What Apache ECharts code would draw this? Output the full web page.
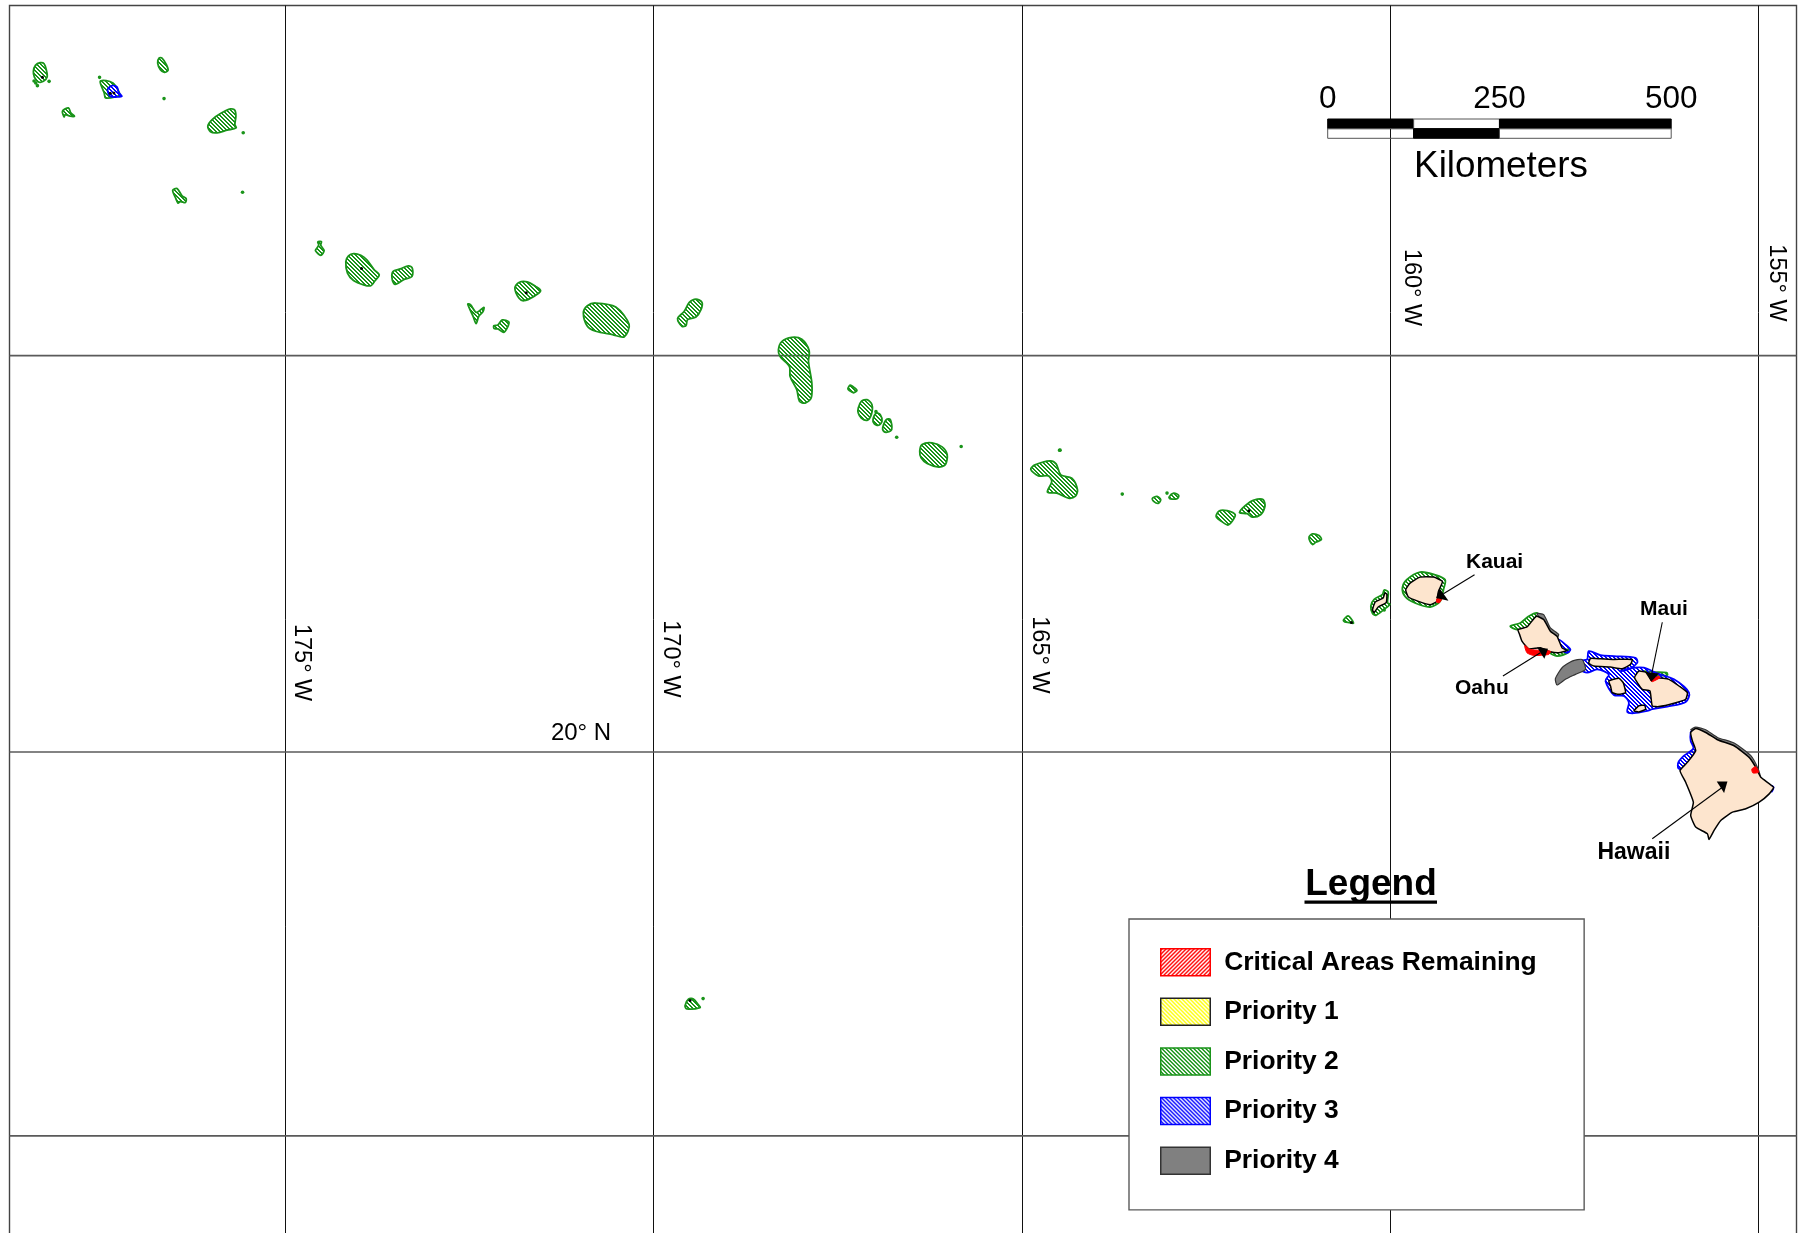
<!DOCTYPE html>
<html>
<head>
<meta charset="utf-8">
<style>html,body{margin:0;padding:0;background:#fff}#chart{width:1805px;height:1233px}</style>
<script src="https://cdn.jsdelivr.net/npm/echarts@6/dist/echarts.min.js"></script>
</head>
<body>
<div id="chart"></div>
<script>
// ---------- graticule (degrees) ----------
const meridians = [-175, -170, -165, -160, -155];
const parallels = [25, 20, 15];
const mapWest = -178.744, mapEast = -154.487;
const northingTop = 30.617, northingBottom = 13.827;   // Mercator northing, in degrees
const graticuleLabels = [
  ['175° W', -174.777, 21.640, true],
  ['170° W', -169.771, 21.690, true],
  ['165° W', -164.762, 21.745, true],
  ['160° W', -159.720, 26.764, true],
  ['155° W', -154.752, 26.826, true],
  ['20° N', -170.986, 20.676, false]
];

// ---------- outline sheets: origin [lon, northing]; outlines are offsets from it ----------
const OUTLINE_UNIT = 1 / 220.5;  // degrees per outline unit
const sheetNorthwest = [-178.873, 30.692];
const sheetLaysan = [-174.800, 27.686];
const sheetGardner = [-168.556, 26.320];
const sheetNihoa = [-165.027, 24.681];
const sheetMain = [-160.141, 23.588];
const sheetJohnston = [-169.778, 17.236];

const priority2Northwest = [
  [[120,189],[132,192],[139,212],[141,232],[130,245],[115,247],[103,232],[100,215],[106,197]],
  [[300,245],[318,243],[338,250],[350,265],[358,285],[345,292],[316,295],[312,280]],
  [[187,335],[205,325],[212,340],[223,350],[210,350],[195,345],[192,352]],
  [[476,175],[485,175],[498,195],[503,212],[492,218],[480,210],[472,190]],
  [[622,380],[635,360],[660,342],[690,328],[703,332],[706,350],[703,375],[707,385],[680,392],[650,400],[630,397]],
  [[517,573],[530,568],[545,590],[557,598],[555,610],[540,607],[533,612],[525,595]]
];
const priority2Laysan = [
  [[50,85],[56,75],[53,66],[64,65],[62,76],[72,92],[62,106],[46,92]],
  [[137,125],[145,108],[160,101],[182,106],[200,120],[222,150],[237,165],[225,182],[212,198],[190,195],[160,182],[142,160]],
  [[278,155],[300,147],[325,138],[336,145],[335,170],[310,180],[285,194],[276,180]],
  [[643,205],[655,188],[680,186],[705,200],[720,213],[700,230],[670,243],[655,235]],
  [[502,253],[510,255],[528,278],[550,263],[548,275],[535,290],[527,312],[518,290]],
  [[580,318],[592,316],[605,301],[625,307],[620,325],[610,338],[592,328],[581,327]],
  [[848,280],[860,258],[885,250],[945,262],[985,315],[970,352],[935,345],[885,335],[860,320]],
  [[1130,297],[1150,275],[1165,248],[1185,238],[1203,248],[1200,270],[1185,292],[1160,300],[1155,318],[1143,320]]
];
const priority2Gardner = [
  [[55,90],[65,65],[95,52],[125,58],[147,92],[145,125],[155,190],[153,235],[135,250],[118,245],[110,210],[90,170],[88,140],[60,110]],
  [[263,207],[270,196],[280,202],[290,212],[280,219],[268,213]],
  [[294,265],[303,245],[320,240],[335,255],[333,285],[320,302],[303,295],[294,280]],
  [[338,300],[348,280],[360,285],[365,305],[355,317],[342,313]],
  [[367,325],[378,300],[390,300],[394,330],[380,338],[370,335]],
  [[478,395],[485,375],[515,370],[545,382],[560,405],[555,435],[535,443],[500,432],[482,415]]
];
const priority2Nihoa = [
  [[32,88],[45,75],[90,63],[108,72],[122,105],[155,115],[172,150],[165,170],[145,175],[110,160],[82,157],[95,125],[85,108],[55,108]],
  [[396,176],[410,170],[421,180],[414,191],[400,185]],
  [[446,172],[460,160],[475,167],[470,177],[450,177]],
  [[587,230],[597,213],[620,213],[644,225],[635,245],[622,256],[600,243]],
  [[657,218],[688,187],[710,178],[728,180],[733,200],[720,225],[695,232],[680,222]],
  [[865,292],[875,283],[895,288],[902,300],[885,308],[876,315],[868,305]],
  [[968,543],[982,530],[992,540],[998,552],[985,550],[972,548]],
  [[1050,500],[1060,480],[1085,465],[1090,452],[1102,458],[1100,490],[1107,495],[1090,510],[1065,528],[1055,522]]
];
const priority2Main = [
  [[67,205],[80,180],[120,157],[165,165],[195,180],[190,210],[180,245],[150,262],[105,250],[75,230]],
  [[390,320],[420,310],[445,290],[470,280],[480,300],[440,325],[410,330]],
  [[510,400],[535,395],[562,390],[565,398],[530,410]],
  [[790,455],[820,458],[858,460],[860,467],[825,468],[800,462]]
];
const priority2Johnston = [
  [[45,62],[55,43],[70,42],[85,60],[90,68],[50,72]]
];
const priority3Northwest = [
  [[322,270],[335,258],[350,262],[355,278],[365,290],[350,292],[330,290]]
];
const priority3Main = [
  [[535,360],[555,375],[570,390],[560,400],[540,385]],
  [[625,395],[660,407],[700,410],[765,415],[770,430],[740,452],[720,455],[760,445],[790,445],[830,462],[880,480],[925,520],[915,548],[860,562],[815,570],[800,575],[760,582],[740,578],[745,550],[730,530],[700,527],[675,485],[685,465],[650,450],[620,460],[600,450],[600,425],[620,420]],
  [[930,640],[935,635],[945,680],[948,690],[925,730],[905,750],[893,748],[893,730],[910,710],[938,688],[930,665]],
  [[1168,800],[1178,805],[1172,818]]
];
const priority4Main = [
  [[470,282],[490,285],[510,325],[535,345],[520,365],[505,345],[490,310]],
  [[525,478],[545,445],[575,425],[605,420],[615,450],[585,465],[555,480],[530,497]],
  [[930,632],[945,624],[975,632],[1010,655],[1060,672],[1110,710],[1132,750],[1140,780],[1130,775],[1120,745],[1100,718],[1060,685],[1010,668],[975,645],[945,635]]
];
const landNihoa = [
  [[1055,512],[1063,488],[1087,476],[1092,461],[1098,464],[1096,490],[1072,503],[1060,520]]
];
const landMain = [
  [[77,210],[90,190],[120,172],[160,172],[187,185],[175,215],[170,245],[150,255],[115,245],[85,232]],
  [[413,330],[440,322],[468,290],[490,300],[510,335],[530,350],[545,385],[560,393],[535,400],[510,397],[480,385],[445,388],[425,365],[418,345]],
  [[630,417],[660,418],[700,420],[755,420],[750,435],[725,448],[690,443],[640,440],[625,432]],
  [[685,485],[715,477],[728,490],[735,520],[715,525],[695,520],[690,500]],
  [[762,475],[775,455],[800,460],[812,482],[830,475],[865,480],[895,500],[920,520],[915,540],[880,552],[835,562],[815,560],[808,515],[785,510]],
  [[760,575],[775,560],[792,558],[795,570],[775,578]],
  [[930,640],[945,628],[975,640],[1010,662],[1060,680],[1105,715],[1125,745],[1140,775],[1178,805],[1165,825],[1135,850],[1095,870],[1055,880],[1020,905],[1000,935],[985,962],[980,945],[945,925],[930,890],[938,850],[915,790],[898,755],[920,730],[945,695],[935,665]]
];
const criticalMain = [
  [[170,238],[185,237],[178,249],[170,248]],
  [[433,378],[450,390],[510,395],[505,405],[460,408],[440,400]],
  [[810,483],[835,470],[838,475],[815,487]],
  [[1113,750],[1125,743],[1133,760],[1116,762]]
];
const dotsPriority2Northwest = [[102,244],[107,250],[112,258],[147,245],[298,233],[728,400],[726,579],[491,297]];
const dotsPriority2Gardner = [[347,276],[409,353],[602,381],[898,392]];
const dotsPriority2Nihoa = [[118,31],[306,163],[440,160],[1090,512]];
const dotsPriority2Johnston = [[99,41]];
const dotsBlackNorthwest = [[127,233],[330,281],[341,280]];
const dotsBlackLaysan = [[184,146],[677,219]];
const dotsBlackNihoa = [[685,213],[992,550]];
const dotsBlackJohnston = [[60,47]];
const pointerLines = [
  [[283,165],[190,222]],
  [[368,470],[480,400]],
  [[845,308],[813,465]],
  [[815,960],[1025,805]]
];
const pointerHeads = [
  [[178,205],[205,243],[168,235]],
  [[470,383],[503,388],[492,418]],
  [[793,458],[835,462],[812,487]],
  [[1040,788],[1008,788],[1030,822]]
];
const islandNames = [
  ['Kauai', 343, 128],
  ['Maui', 850, 270],
  ['Oahu', 305, 506],
  ['Hawaii', 760, 1003]
];

// ---------- scale bar (kilometres) ----------
const scaleStart = [0, 125, 250];
const scaleEnd = [125, 250, 500];
const scaleUpperBlack = [1, 0, 1];

// ---------- legend ----------
const legendNames = ['Critical Areas Remaining', 'Priority 1', 'Priority 2', 'Priority 3', 'Priority 4'];

// ---------- helpers ----------
const northing = lat => (Math.log(Math.tan(Math.PI / 4 + lat * Math.PI / 360)) * 180) / Math.PI;
const place = (sheet, rings) => rings.map(r => r.map(p => [sheet[0] + p[0] * OUTLINE_UNIT, sheet[1] - p[1] * OUTLINE_UNIT]));
const placeDots = (sheet, pts) => pts.map(p => [sheet[0] + p[0] * OUTLINE_UNIT, sheet[1] - p[1] * OUTLINE_UNIT]);

function hatch(color, rising) {
  const c = document.createElement('canvas');
  c.width = c.height = 4;
  const g = c.getContext('2d');
  g.fillStyle = color;
  for (let i = 0; i < 4; i++) for (let j = 0; j < 4; j++) {
    const k = rising ? (i + j) % 4 : (i - j + 4) % 4;
    if (k < 2) g.fillRect(i, j, 1, 1);
  }
  return { image: c, repeat: 'repeat' };
}
const GREEN = '#1a941a', BLUE = '#0000ff', RED = '#ff0000', YELLOW = '#ffff00', GRAY = '#808080', LAND = '#fde5ce';
const fillCritical = hatch(RED, true), fillP1 = hatch(YELLOW, false), fillP2 = hatch(GREEN, false), fillP3 = hatch(BLUE, false);

function polygonSeries(name, rings, style, legendStyle) {
  return {
    type: 'custom', name, coordinateSystem: 'cartesian2d', xAxisIndex: 0, yAxisIndex: 0,
    silent: true, clip: true,
    itemStyle: legendStyle || { color: style.fill, borderColor: style.stroke, borderWidth: 1.5 },
    data: rings.map(r => r[0]),
    renderItem: (params, api) => ({
      type: 'polygon',
      shape: { points: rings[params.dataIndex].map(p => api.coord(p)), smooth: style.smooth === undefined ? 0.3 : style.smooth },
      style: { fill: style.fill, stroke: style.stroke, lineWidth: style.lineWidth }
    })
  };
}
function dotSeries(points, color, r) {
  return {
    type: 'custom', name: 'point features', coordinateSystem: 'cartesian2d', xAxisIndex: 0, yAxisIndex: 0, silent: true,
    data: points,
    renderItem: (params, api) => {
      const c = api.coord(points[params.dataIndex]);
      return { type: 'circle', shape: { cx: c[0], cy: c[1], r }, style: { fill: color } };
    }
  };
}

const graticuleSegments = meridians.map(m => ({ a: [m, northingBottom], b: [m, northingTop], c: '#111', w: 1, crisp: true }))
  .concat(parallels.map(p => ({ a: [mapWest, northing(p)], b: [mapEast, northing(p)], c: '#5a5a5a', w: 1.6 })));

const p2Rings = [].concat(place(sheetNorthwest, priority2Northwest), place(sheetLaysan, priority2Laysan),
  place(sheetGardner, priority2Gardner), place(sheetNihoa, priority2Nihoa), place(sheetMain, priority2Main),
  place(sheetJohnston, priority2Johnston));
const p3Rings = [].concat(place(sheetNorthwest, priority3Northwest), place(sheetMain, priority3Main));
const p4Rings = place(sheetMain, priority4Main);
const landRings = [].concat(place(sheetNihoa, landNihoa), place(sheetMain, landMain));
const critRings = place(sheetMain, criticalMain);
const headRings = place(sheetMain, pointerHeads);
const leaderLines = place(sheetMain, pointerLines);
const greenDots = [].concat(placeDots(sheetNorthwest, dotsPriority2Northwest), placeDots(sheetGardner, dotsPriority2Gardner),
  placeDots(sheetNihoa, dotsPriority2Nihoa), placeDots(sheetJohnston, dotsPriority2Johnston));
const blackDots = [].concat(placeDots(sheetNorthwest, dotsBlackNorthwest), placeDots(sheetLaysan, dotsBlackLaysan),
  placeDots(sheetNihoa, dotsBlackNihoa), placeDots(sheetJohnston, dotsBlackJohnston));

const FONT = '"Liberation Sans", Arial, sans-serif';

const series = [
  {
    type: 'custom', name: 'graticule', coordinateSystem: 'cartesian2d', xAxisIndex: 0, yAxisIndex: 0, silent: true,
    data: graticuleSegments.map(s => s.a),
    renderItem: (params, api) => {
      const s = graticuleSegments[params.dataIndex], a = api.coord(s.a), b = api.coord(s.b);
      const x1 = s.crisp ? Math.floor(a[0]) + 0.5 : a[0], x2 = s.crisp ? Math.floor(b[0]) + 0.5 : b[0];
      return { type: 'line', shape: { x1, y1: a[1], x2, y2: b[1] }, style: { stroke: s.c, lineWidth: s.w } };
    }
  },
  {
    type: 'custom', name: 'graticule labels', coordinateSystem: 'cartesian2d', xAxisIndex: 0, yAxisIndex: 0, silent: true,
    data: graticuleLabels.map(l => [l[1], l[2]]),
    renderItem: (params, api) => {
      const l = graticuleLabels[params.dataIndex], c = api.coord([l[1], l[2]]);
      return {
        type: 'text', x: c[0], y: c[1], rotation: l[3] ? -Math.PI / 2 : 0,
        style: { text: l[0], fill: '#000', font: (l[3] ? '23.5px ' : '24px ') + FONT, textAlign: 'center', textVerticalAlign: 'middle' }
      };
    }
  },
  polygonSeries('Priority 2', p2Rings, { fill: fillP2, stroke: GREEN, lineWidth: 1.8 }),
  polygonSeries('Priority 3', p3Rings, { fill: fillP3, stroke: BLUE, lineWidth: 1.8 }),
  polygonSeries('Priority 4', p4Rings, { fill: GRAY, stroke: '#333', lineWidth: 1.2, smooth: 0.2 }),
  polygonSeries('land', landRings, { fill: LAND, stroke: '#000', lineWidth: 1.5, smooth: 0.15 }),
  polygonSeries('Critical Areas Remaining', critRings, { fill: RED, stroke: RED, lineWidth: 1, smooth: 0.2 },
    { color: fillCritical, borderColor: RED, borderWidth: 1.5 }),
  polygonSeries('Priority 1', [], { fill: fillP1, stroke: '#222', lineWidth: 1.5 }),
  dotSeries(greenDots, GREEN, 1.8),
  dotSeries(blackDots, '#000', 1.5),
  {
    type: 'custom', name: 'pointers', coordinateSystem: 'cartesian2d', xAxisIndex: 0, yAxisIndex: 0, silent: true,
    data: leaderLines.map(l => l[0]),
    renderItem: (params, api) => {
      const l = leaderLines[params.dataIndex], h = headRings[params.dataIndex];
      const a = api.coord(l[0]), b = api.coord(l[1]);
      return {
        type: 'group',
        children: [
          { type: 'line', shape: { x1: a[0], y1: a[1], x2: b[0], y2: b[1] }, style: { stroke: '#000', lineWidth: 1.1 } },
          { type: 'polygon', shape: { points: h.map(p => api.coord(p)) }, style: { fill: '#000' } }
        ]
      };
    }
  },
  {
    type: 'custom', name: 'island names', coordinateSystem: 'cartesian2d', xAxisIndex: 0, yAxisIndex: 0, silent: true,
    data: islandNames.map(n => placeDots(sheetMain, [[n[1], n[2]]])[0]),
    renderItem: (params, api) => {
      const n = islandNames[params.dataIndex];
      const c = api.coord(placeDots(sheetMain, [[n[1], n[2]]])[0]);
      return { type: 'text', x: c[0], y: c[1], style: { text: n[0], fill: '#000', font: 'bold ' + (n[0] === 'Hawaii' ? 23 : 21) + 'px ' + FONT, textAlign: 'center', textVerticalAlign: 'middle' } };
    }
  },
  {
    type: 'custom', name: 'scale bar', coordinateSystem: 'cartesian2d', xAxisIndex: 1, yAxisIndex: 1, silent: true,
    data: scaleStart.map((s, i) => [s, scaleEnd[i]]),
    renderItem: (params, api) => {
      const i = params.dataIndex, x0 = api.coord([scaleStart[i], 2]), x1 = api.coord([scaleEnd[i], 1]), x2 = api.coord([scaleEnd[i], 0]);
      const upper = scaleUpperBlack[i];
      return {
        type: 'group',
        children: [
          { type: 'rect', shape: { x: x0[0], y: x0[1], width: x1[0] - x0[0], height: x1[1] - x0[1] }, style: { fill: upper ? '#000' : 'none', stroke: upper ? '#000' : '#555', lineWidth: 1 } },
          { type: 'rect', shape: { x: x0[0], y: x1[1], width: x1[0] - x0[0], height: x2[1] - x1[1] }, style: { fill: upper ? 'none' : '#000', stroke: upper ? '#555' : '#000', lineWidth: 1 } }
        ]
      };
    }
  }
];

const chart = echarts.init(document.getElementById('chart'), null, { renderer: 'canvas' });
chart.setOption({
  animation: false,
  backgroundColor: '#fff',
  title: [
    { text: 'Legend', left: 1371, top: 866, textAlign: 'center', textStyle: { fontFamily: FONT, fontWeight: 'bold', fontSize: 37, color: '#000' }, padding: 0 },
    { text: 'Kilometers', left: 1501, top: 148, textAlign: 'center', textStyle: { fontFamily: FONT, fontWeight: 'normal', fontSize: 36.8, color: '#000' }, padding: 0 }
  ],
  graphic: [
    { type: 'rect', z: 10, shape: { x: 1304.5, y: 900.5, width: 132.5, height: 3.2 }, style: { fill: '#000' }, silent: true }
  ],
  legend: {
    show: true,
    orient: 'vertical', left: 1129, top: 919,
    selectedMode: false,
    icon: 'rect',
    itemWidth: 49.5, itemHeight: 27, itemGap: 21.1,
    padding: [29, 47.5, 35, 31],
    backgroundColor: '#fff', borderColor: '#5a5a5a', borderWidth: 1.4, z: 6,
    textStyle: { fontFamily: FONT, fontWeight: 'bold', fontSize: 26.4, color: '#000', padding: [0, 0, 0, 9] },
    data: [
      { name: legendNames[0], itemStyle: { color: fillCritical, borderColor: RED, borderWidth: 1.5 } },
      { name: legendNames[1], itemStyle: { color: fillP1, borderColor: '#222', borderWidth: 1.5 } },
      { name: legendNames[2], itemStyle: { color: fillP2, borderColor: GREEN, borderWidth: 1.5 } },
      { name: legendNames[3], itemStyle: { color: fillP3, borderColor: BLUE, borderWidth: 1.5 } },
      { name: legendNames[4], itemStyle: { color: GRAY, borderColor: '#333', borderWidth: 1.5 } }
    ]
  },
  grid: [
    { left: 9.5, top: 5.5, width: 1787, height: 1229, show: true, borderColor: '#444', borderWidth: 1.4, backgroundColor: 'transparent', outerBoundsMode: 'none' },
    { left: 1327.7, top: 119, width: 343.5, height: 19.3, show: false, outerBoundsMode: 'none' }
  ],
  xAxis: [
    { type: 'value', gridIndex: 0, min: mapWest, max: mapEast, show: false },
    {
      type: 'value', gridIndex: 1, min: 0, max: 500, interval: 250, position: 'top',
      axisLine: { show: false }, axisTick: { show: false }, splitLine: { show: false },
      axisLabel: { show: true, margin: 3.5, fontFamily: FONT, fontSize: 31.5, color: '#000', showMinLabel: true, showMaxLabel: true, hideOverlap: false }
    }
  ],
  yAxis: [
    { type: 'value', gridIndex: 0, min: northingBottom, max: northingTop, show: false },
    { type: 'value', gridIndex: 1, min: 0, max: 2, show: false }
  ],
  series
});
</script>
</body>
</html>
